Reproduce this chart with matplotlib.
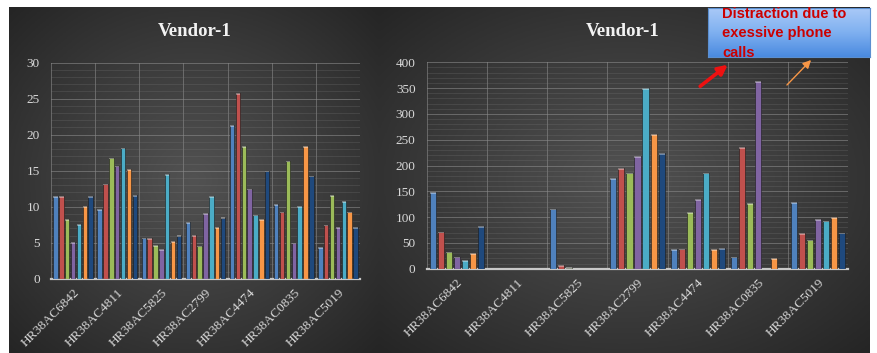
import numpy as np
import matplotlib
matplotlib.use("Agg")
import matplotlib.pyplot as plt
from matplotlib.colors import LinearSegmentedColormap
from matplotlib.patches import FancyArrowPatch

# данные
categories = ["HR38AC6842", "HR38AC4811", "HR38AC5825", "HR38AC2799",
              "HR38AC4474", "HR38AC0835", "HR38AC5019"]

left_s1 = [11.5, 9.7, 5.7, 7.9, 21.3, 10.4, 4.4]
left_s2 = [11.5, 13.2, 5.6, 6.1, 25.8, 9.3, 7.5]
left_s3 = [8.3, 16.8, 4.7, 4.6, 18.4, 16.4, 11.6]
left_s4 = [5.1, 15.7, 4.1, 9.1, 12.5, 5.0, 7.2]
left_s5 = [7.6, 18.2, 14.5, 11.5, 8.9, 10.1, 10.8]
left_s6 = [10.1, 15.2, 5.2, 7.2, 8.3, 18.4, 9.3]
left_s7 = [11.5, 11.6, 6.0, 8.5, 15.0, 14.3, 7.2]

right_s1 = [148, 0, 116, 176, 38, 23, 129]
right_s2 = [72, 0, 7, 195, 39, 235, 69]
right_s3 = [33, 0, 1, 186, 110, 127, 56]
right_s4 = [23, 0, 0, 218, 135, 364, 96]
right_s5 = [17, 0, 0, 350, 186, 0, 93]
right_s6 = [30, 0, 0, 261, 38, 21, 100]
right_s7 = [83, 0, 0, 224, 40, 0, 70]

colors = ["#4F81BD", "#C0504D", "#9BBB59", "#8064A2", "#4BACC6", "#F79646", "#1F497D"]

W, H = 877, 353
fig = plt.figure(figsize=(W / 100, H / 100), dpi=100)
fig.patch.set_facecolor("white")

bg_cmap = LinearSegmentedColormap.from_list("bg", ["#525252", "#3c3c3c", "#252525"])


def px_box(x0, y0, x1, y1):
    # пиксели -> координаты фигуры
    return [x0 / W, 1 - y1 / H, (x1 - x0) / W, (y1 - y0) / H]


def panel(x0, y0, x1, y1):
    ax = fig.add_axes(px_box(x0, y0, x1, y1), zorder=-5)
    yy, xx = np.mgrid[-1:1:200j, -1:1:300j]
    r = np.sqrt(xx ** 2 + yy ** 2) / np.sqrt(2)
    ax.imshow(r, cmap=bg_cmap, aspect="auto", extent=[0, 1, 0, 1], vmin=0, vmax=1)
    ax.axis("off")
    return ax


def bar_chart(box, series, ymax, major, minor, title, title_xy):
    ax = fig.add_axes(px_box(*box))
    ax.set_facecolor("none")
    x = np.arange(len(categories))
    pitch = 0.133
    for i, (vals, c) in enumerate(zip(series, colors)):
        off = (i - 3) * pitch
        ax.bar(x + off, vals, width=0.1, color=c, edgecolor="#1a1a1a",
               linewidth=0.4, zorder=3)
        # светлая верхушка столбика
        ax.bar(x + off, [ymax * 0.008 if v > 0 else 0 for v in vals],
               bottom=[max(v - ymax * 0.008, 0) for v in vals], width=0.1,
               color="white", alpha=0.35, linewidth=0, zorder=4)
    ax.set_xlim(-0.5, len(categories) - 0.5)
    ax.set_ylim(0, ymax)
    ax.set_yticks(np.arange(0, ymax + 1, major))
    ax.set_yticks(np.arange(0, ymax + 1, minor), minor=True)
    ax.set_xticks(x)
    ax.set_xticks(np.arange(-0.5, len(categories), 1), minor=True)
    ax.set_xticklabels(categories, rotation=45, ha="right", rotation_mode="anchor")
    ax.tick_params(axis="both", which="both", length=0, colors="#d9d9d9",
                   labelsize=9.5)
    ax.tick_params(axis="y", pad=8)
    ax.tick_params(axis="x", pad=6)
    for lbl in ax.get_xticklabels() + ax.get_yticklabels():
        lbl.set_fontfamily("Liberation Serif")
    ax.grid(axis="y", which="major", color="#8a8a8a", linewidth=0.7, alpha=0.6, zorder=0)
    ax.grid(axis="y", which="minor", color="#7a7a7a", linewidth=0.5, alpha=0.35, zorder=0)
    ax.grid(axis="x", which="minor", color="#8a8a8a", linewidth=0.7, alpha=0.6, zorder=0)
    ax.grid(axis="x", which="major", visible=False)
    for s in ["top", "right", "left"]:
        ax.spines[s].set_visible(False)
    ax.spines["bottom"].set_color("#c8c8c8")
    ax.spines["bottom"].set_linewidth(1.6)
    ax.set_axisbelow(True)
    fig.text(title_xy[0] / W, 1 - title_xy[1] / H, title, ha="center", va="center",
             fontsize=13.5, fontweight="bold", color="#f2f2f2",
             family="Liberation Serif")
    return ax


panel(9, 7, 379, 353)
panel(379, 7, 870, 353)

bar_chart((51, 62.7, 360, 278.7),
          [left_s1, left_s2, left_s3, left_s4, left_s5, left_s6, left_s7],
          30, 5, 1, "Vendor-1", (195, 31))
bar_chart((426.7, 62.3, 848.3, 268.7),
          [right_s1, right_s2, right_s3, right_s4, right_s5, right_s6, right_s7],
          400, 50, 10, "Vendor-1", (623, 31))

# выноска
box_ax = fig.add_axes(px_box(708, 8, 870, 57), zorder=5)
grad = np.linspace(0, 1, 100).reshape(-1, 1)
box_cmap = LinearSegmentedColormap.from_list("box", ["#a9c9f7", "#7fb0f0", "#4a8ae0"])
box_ax.imshow(grad, cmap=box_cmap, aspect="auto", extent=[0, 1, 0, 1], origin="upper")
box_ax.set_xticks([])
box_ax.set_yticks([])
for s in box_ax.spines.values():
    s.set_color("#5b8fd0")
    s.set_linewidth(0.8)

note = fig.text(722 / W, 1 - 7 / H, "Distraction due to\nexessive phone\ncalls",
                ha="left", va="top", fontsize=10.5, fontweight="bold",
                color="#cc0000", family="Liberation Sans", linespacing=1.5,
                zorder=10)

fig.add_artist(FancyArrowPatch((698 / W, 1 - 88 / H), (730 / W, 1 - 63 / H),
                               transform=fig.transFigure, arrowstyle="-|>",
                               mutation_scale=14, color="#ee1111", linewidth=2.6,
                               zorder=10))
fig.add_artist(FancyArrowPatch((785 / W, 1 - 87 / H), (813 / W, 1 - 58 / H),
                               transform=fig.transFigure, arrowstyle="-|>",
                               mutation_scale=12, color="#f79646", linewidth=1.0,
                               zorder=10))

fig.savefig("out.png", dpi=100, facecolor="white")
